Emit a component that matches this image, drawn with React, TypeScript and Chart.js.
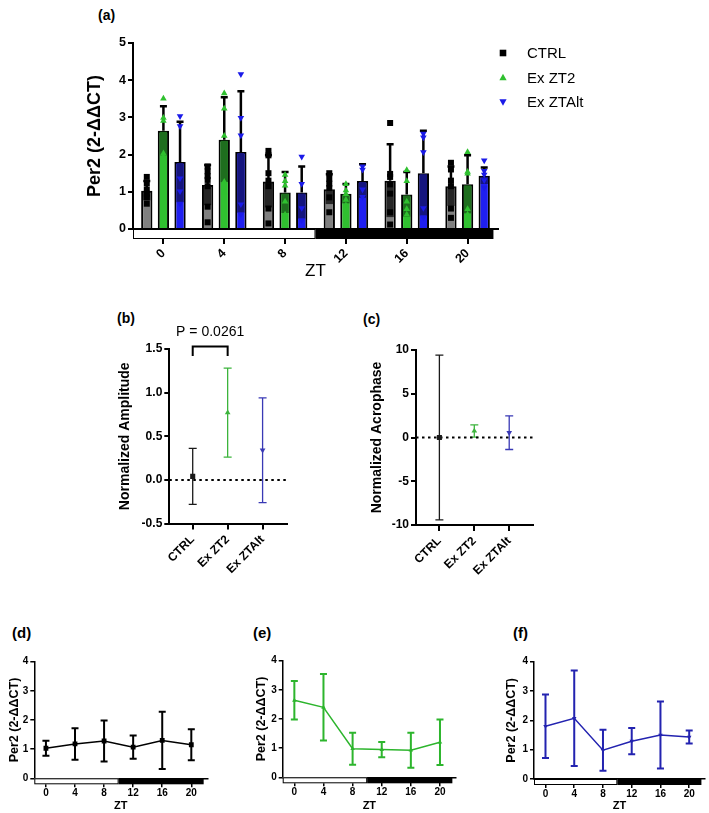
import React, { useEffect, useRef } from "react";
import { Chart, registerables } from "chart.js";

Chart.register(...registerables);

const FONT = "'Liberation Sans', Arial, Helvetica, sans-serif";
Chart.defaults.font.family = FONT;
Chart.defaults.color = "#000";

// Sampling times and groups
const ztHours = [0, 4, 8, 12, 16, 20];
const ztLabels = ["0", "4", "8", "12", "16", "20"];
const groupNames = ["CTRL", "Ex ZT2", "Ex ZTAlt"];

// Per2 relative expression, mean and SD per ZT
const ctrlMean = [1.03, 1.18, 1.28, 1.07, 1.3, 1.15];
const ctrlSD = [0.26, 0.54, 0.7, 0.4, 0.98, 0.53];
const zt2Mean = [2.64, 2.4, 0.98, 0.95, 0.93, 1.2];
const zt2SD = [0.66, 1.14, 0.55, 0.26, 0.6, 0.78];
const ztAltMean = [1.8, 2.07, 0.98, 1.29, 1.5, 1.43];
const ztAltSD = [1.08, 1.63, 0.7, 0.45, 1.14, 0.22];

// Individual replicates per ZT
const ctrlReplicates = [
  [1.4, 1.22, 1.05, 0.95, 0.85, 0.68],
  [1.68, 1.55, 1.42, 1.32, 1.15, 0.6, 0.18],
  [2.1, 1.98, 1.5, 1.3, 1.15, 0.55, 0.15],
  [1.5, 1.35, 1.22, 1.1, 0.85, 0.45],
  [2.85, 1.48, 1.4, 1.2, 0.95, 0.45, 0.12],
  [1.78, 1.6, 1.3, 1.15, 0.55, 0.3],
];
const zt2Replicates = [
  [3.52, 3.0, 2.92, 2.05, 1.95],
  [3.66, 3.25, 2.52, 1.28, 1.0],
  [1.47, 1.3, 1.18, 0.75, 0.4],
  [1.22, 1.05, 0.95, 0.8, 0.65],
  [1.6, 1.3, 0.75, 0.55, 0.4],
  [2.08, 1.55, 1.5, 0.55, 0.4],
];
const ztAltReplicates = [
  [3.02, 2.75, 1.35, 1.0, 0.67],
  [4.15, 2.97, 2.5, 0.65, 0.38],
  [1.93, 1.2, 0.55, 0.22],
  [1.67, 1.58, 1.05, 0.85],
  [2.55, 2.45, 2.05, 0.55, 0.3],
  [1.83, 1.55, 1.45, 1.3, 1.1],
];

// Cosinor summaries
const amplitudeMean = [0.04, 0.77, 0.34];
const amplitudeSD = [0.32, 0.51, 0.6];
const amplitudePValue = "P = 0.0261";
const acrophaseMean = [0, 0.75, 0.55];
const acrophaseSD = [9.42, 0.7, 1.92];

// Light / dark phase in ZT hours
const lightOff = 10;
const darkEnd = 21.7;

const barFill = ["#808080", "#30c030", "#1f1ff0"];
const barShade = ["#262626", "#1e6e1e", "#15157e"];
const markColor = ["#000000", "#2fc02f", "#1a1ae8"];
const markKind = ["square", "up", "down"];
const errColor = ["#1a1a1a", "#3cb43c", "#3939b5"];
const lineColor = ["#000000", "#2db52d", "#2323b0"];

function drawMarker(ctx: CanvasRenderingContext2D, kind: string, x: number, y: number, r: number, color: string) {
  ctx.beginPath();
  if (kind === "square") {
    ctx.rect(x - r, y - r, 2 * r, 2 * r);
  } else if (kind === "up") {
    ctx.moveTo(x, y - r * 1.1);
    ctx.lineTo(x + r * 1.1, y + r * 0.8);
    ctx.lineTo(x - r * 1.1, y + r * 0.8);
    ctx.closePath();
  } else {
    ctx.moveTo(x, y + r * 1.1);
    ctx.lineTo(x + r * 1.1, y - r * 0.8);
    ctx.lineTo(x - r * 1.1, y - r * 0.8);
    ctx.closePath();
  }
  ctx.fillStyle = color;
  ctx.fill();
}

// light/dark bar under the x axis
const lightDark = {
  id: "lightDark",
  afterDraw(chart: any, _a: any, opts: any) {
    const { ctx, chartArea } = chart;
    const xs = chart.scales.x;
    const px = (h: number) => xs.getPixelForValue(h * opts.unit);
    const top = chartArea.bottom;
    const h = opts.height;
    const xL = chartArea.left;
    const xM = px(lightOff);
    const xR = px(darkEnd);
    ctx.save();
    ctx.fillStyle = "#fff";
    ctx.fillRect(xL, top, xM - xL, h);
    ctx.strokeStyle = "#000";
    ctx.lineWidth = 1;
    ctx.strokeRect(xL + 0.5, top + 0.5, xM - xL - 1, h - 1);
    ctx.fillStyle = "#000";
    ctx.fillRect(xM, top, xR - xM, h);
    ctx.restore();
  },
};

// mean +/- SD whiskers for line and scatter datasets
const errorBars = {
  id: "errorBars",
  beforeDatasetsDraw(chart: any, _a: any, opts: any) {
    const { ctx } = chart;
    ctx.save();
    chart.data.datasets.forEach((ds: any, i: number) => {
      const meta = chart.getDatasetMeta(i);
      const ys = chart.scales[meta.yAxisID];
      meta.data.forEach((el: any, j: number) => {
        const m = meta.controller.getParsed(j).y;
        const sd = ds.sd[j];
        const yHi = ys.getPixelForValue(m + sd);
        const yLo = ys.getPixelForValue(m - sd);
        ctx.strokeStyle = ds.errColor;
        ctx.lineWidth = opts.width;
        ctx.beginPath();
        ctx.moveTo(el.x, yHi);
        ctx.lineTo(el.x, yLo);
        ctx.moveTo(el.x - opts.cap, yHi);
        ctx.lineTo(el.x + opts.cap, yHi);
        ctx.moveTo(el.x - opts.cap, yLo);
        ctx.lineTo(el.x + opts.cap, yLo);
        ctx.stroke();
      });
    });
    ctx.restore();
  },
};

// replicates, SD span and legend for the bar panel
const barDecor = {
  id: "barDecor",
  afterDatasetsDraw(chart: any) {
    const { ctx } = chart;
    const ys = chart.scales.y;
    ctx.save();
    chart.data.datasets.forEach((ds: any, i: number) => {
      const meta = chart.getDatasetMeta(i);
      meta.data.forEach((bar: any, j: number) => {
        const m = ds.data[j];
        const sd = ds.sd[j];
        const half = bar.width / 2;
        const yTop = ys.getPixelForValue(m);
        const yLow = ys.getPixelForValue(Math.max(m - sd, 0));
        ctx.fillStyle = ds.shade;
        ctx.fillRect(bar.x - half + 2, yTop + 1, bar.width - 4, yLow - yTop - 1);
        const yUp = ys.getPixelForValue(m + sd);
        ctx.strokeStyle = "#000";
        ctx.lineWidth = 2.5;
        ctx.beginPath();
        ctx.moveTo(bar.x, yTop);
        ctx.lineTo(bar.x, yUp);
        ctx.moveTo(bar.x - 3.5, yUp);
        ctx.lineTo(bar.x + 3.5, yUp);
        ctx.stroke();
        ds.replicates[j].forEach((v: number) => {
          drawMarker(ctx, ds.marker, bar.x, ys.getPixelForValue(v), 3, ds.markColor);
        });
      });
    });
    ctx.restore();
  },
  afterDraw(chart: any) {
    const { ctx, chartArea } = chart;
    ctx.save();
    ctx.font = `15px ${FONT}`;
    ctx.textBaseline = "middle";
    ctx.textAlign = "left";
    chart.data.datasets.forEach((ds: any, i: number) => {
      const y = chartArea.top + 10 + i * 24.5;
      drawMarker(ctx, ds.marker, chartArea.right + 5, y, 3.3, ds.markColor);
      ctx.fillStyle = "#000";
      ctx.fillText(ds.label, chartArea.right + 29, y + 1);
    });
    ctx.restore();
  },
};

// significance bracket
const bracket = {
  id: "bracket",
  afterDraw(chart: any, _a: any, opts: any) {
    const { ctx } = chart;
    const xs = chart.scales.x;
    const ys = chart.scales.y;
    const x0 = xs.getPixelForValue(opts.from);
    const x1 = xs.getPixelForValue(opts.to);
    const yT = ys.getPixelForValue(opts.top);
    const yB = ys.getPixelForValue(opts.leg);
    ctx.save();
    ctx.strokeStyle = "#000";
    ctx.lineWidth = 2;
    ctx.beginPath();
    ctx.moveTo(x0, yB);
    ctx.lineTo(x0, yT);
    ctx.lineTo(x1, yT);
    ctx.lineTo(x1, yB);
    ctx.stroke();
    ctx.fillStyle = "#000";
    ctx.font = `14px ${FONT}`;
    ctx.textAlign = "center";
    ctx.textBaseline = "middle";
    ctx.fillText(opts.text, (x0 + x1) / 2, yT - 14);
    ctx.restore();
  },
};

// dotted zero reference
const zeroLine = {
  id: "zeroLine",
  beforeDatasetsDraw(chart: any) {
    const { ctx, chartArea } = chart;
    const y = chart.scales.y.getPixelForValue(0);
    ctx.save();
    ctx.strokeStyle = "#000";
    ctx.lineWidth = 2;
    ctx.setLineDash([2.5, 3.5]);
    ctx.beginPath();
    ctx.moveTo(chartArea.left, y);
    ctx.lineTo(chartArea.right, y);
    ctx.stroke();
    ctx.restore();
  },
};

const axisLine = (w: number) => ({ color: "#000", width: w });
const tickGrid = (len: number, w: number, offset = false) => ({
  drawOnChartArea: false,
  color: "#000",
  lineWidth: w,
  tickLength: len,
  offset,
});

function barConfig(): any {
  const means = [ctrlMean, zt2Mean, ztAltMean];
  const sds = [ctrlSD, zt2SD, ztAltSD];
  const reps = [ctrlReplicates, zt2Replicates, ztAltReplicates];
  return {
    type: "bar",
    data: {
      labels: ztLabels,
      datasets: groupNames.map((name, i) => ({
        label: name,
        data: means[i],
        sd: sds[i],
        replicates: reps[i],
        backgroundColor: barFill[i],
        borderColor: "#000",
        borderWidth: 2,
        shade: barShade[i],
        markColor: markColor[i],
        marker: markKind[i],
        categoryPercentage: 0.82,
        barPercentage: 0.68,
      })),
    },
    options: {
      animation: false,
      responsive: false,
      devicePixelRatio: 1,
      layout: { padding: { left: 0, top: 13, right: 211, bottom: 0 } },
      plugins: {
        legend: { display: false },
        tooltip: { enabled: false },
        lightDark: { unit: 0.25, height: 10 },
      },
      scales: {
        x: {
          grid: tickGrid(15, 2, false),
          border: axisLine(2),
          ticks: { font: { size: 12.5, weight: "bold" }, minRotation: 45, maxRotation: 45, padding: 2 },
          title: { display: true, text: "ZT", font: { size: 17 }, padding: { top: 0, bottom: 8 } },
          afterFit: (s: any) => { s.height = 61; },
        },
        y: {
          min: 0,
          max: 5,
          ticks: { stepSize: 1, font: { size: 12.5, weight: "bold" }, padding: 2 },
          grid: tickGrid(5, 2),
          border: axisLine(2),
          title: { display: true, text: "Per2 (2-ΔΔCT)", font: { size: 18, weight: "bold" }, padding: { top: 24, bottom: 0 } },
          afterFit: (s: any) => { s.width = 73; },
        },
      },
    },
    plugins: [barDecor, lightDark],
  };
}

function summaryConfig(
  means: number[],
  sds: number[],
  yMin: number,
  yMax: number,
  step: number,
  decimals: number,
  yTitle: string,
  box: { yw: number; xh: number; top: number; right: number; titlePad: number },
  extra: any[],
  extraOpts: any
): any {
  const pointStyles = ["rect", "triangle", "triangle"];
  const rotations = [0, 0, 180];
  const radii = [3.6, 3.3, 3.3];
  return {
    type: "scatter",
    data: {
      datasets: groupNames.map((name, i) => ({
        label: name,
        data: [{ x: i, y: means[i] }],
        sd: [sds[i]],
        errColor: errColor[i],
        pointStyle: pointStyles[i],
        pointRotation: rotations[i],
        pointRadius: radii[i],
        pointBackgroundColor: errColor[i],
        pointBorderColor: errColor[i],
        pointBorderWidth: 0,
      })),
    },
    options: {
      animation: false,
      responsive: false,
      devicePixelRatio: 1,
      layout: { padding: { left: 0, top: box.top, right: box.right, bottom: 0 } },
      plugins: {
        legend: { display: false },
        tooltip: { enabled: false },
        errorBars: { width: 1.3, cap: 4 },
        ...extraOpts,
      },
      scales: {
        x: {
          type: "linear",
          min: -0.67,
          max: 2.69,
          afterBuildTicks: (s: any) => { s.ticks = groupNames.map((_, i) => ({ value: i })); },
          ticks: {
            callback: (v: number) => groupNames[v],
            minRotation: 45,
            maxRotation: 45,
            font: { size: 12, weight: "bold" },
            padding: 3,
          },
          grid: tickGrid(6, 2),
          border: axisLine(2),
          afterFit: (s: any) => { s.height = box.xh; },
        },
        y: {
          min: yMin,
          max: yMax,
          ticks: {
            stepSize: step,
            callback: (v: number) => Number(v).toFixed(decimals),
            font: { size: 12, weight: "bold" },
            padding: 2,
          },
          grid: tickGrid(5, 2),
          border: axisLine(2),
          title: { display: true, text: yTitle, font: { size: 14, weight: "bold" }, padding: { top: box.titlePad, bottom: 0 } },
          afterFit: (s: any) => { s.width = box.yw; },
        },
      },
    },
    plugins: [errorBars, zeroLine, ...extra],
  };
}

function profileConfig(
  g: number,
  means: number[],
  sds: number[],
  box: { yw: number; xh: number; top: number; right: number; titlePad: number }
): any {
  const pointStyles = ["rect", "triangle", "triangle"];
  const rotations = [0, 0, 180];
  const radii = [3.4, 2.6, 2.6];
  return {
    type: "line",
    data: {
      datasets: [
        {
          label: groupNames[g],
          data: ztHours.map((h, i) => ({ x: h, y: means[i] })),
          sd: sds,
          errColor: lineColor[g],
          borderColor: lineColor[g],
          borderWidth: 1.5,
          pointStyle: pointStyles[g],
          pointRotation: rotations[g],
          pointRadius: radii[g],
          pointBackgroundColor: lineColor[g],
          pointBorderColor: lineColor[g],
          pointBorderWidth: 0,
          tension: 0,
        },
      ],
    },
    options: {
      animation: false,
      responsive: false,
      devicePixelRatio: 1,
      layout: { padding: { left: 0, top: box.top, right: box.right, bottom: 0 } },
      plugins: {
        legend: { display: false },
        tooltip: { enabled: false },
        errorBars: { width: 2, cap: 3.5 },
        lightDark: { unit: 1, height: 6 },
      },
      scales: {
        x: {
          type: "linear",
          min: -1.6,
          max: 22.2,
          afterBuildTicks: (s: any) => { s.ticks = ztHours.map((h) => ({ value: h })); },
          ticks: { font: { size: 10, weight: "bold" }, padding: 0, maxRotation: 0 },
          grid: tickGrid(9, 1.5),
          border: axisLine(1.5),
          title: { display: true, text: "ZT", font: { size: 11, weight: "bold" }, padding: { top: 0, bottom: 0 } },
          afterFit: (s: any) => { s.height = box.xh; },
        },
        y: {
          min: 0,
          max: 4,
          ticks: { stepSize: 1, font: { size: 10, weight: "bold" }, padding: 2 },
          grid: tickGrid(4, 1.5),
          border: axisLine(1.5),
          title: { display: true, text: "Per2 (2-ΔΔCT)", font: { size: 12.5, weight: "bold" }, padding: { top: box.titlePad, bottom: 0 } },
          afterFit: (s: any) => { s.width = box.yw; },
        },
      },
    },
    plugins: [errorBars, lightDark],
  };
}

type Box = { x: number; y: number; w: number; h: number };

function ChartBox({ box, make }: { box: Box; make: () => any }) {
  const ref = useRef<HTMLCanvasElement>(null);
  useEffect(() => {
    const chart = new Chart(ref.current as HTMLCanvasElement, make());
    return () => chart.destroy();
  }, []);
  return (
    <canvas
      ref={ref}
      width={box.w}
      height={box.h}
      style={{ position: "absolute", left: box.x, top: box.y, width: box.w, height: box.h }}
    />
  );
}

function PanelTag({ text, x, y, size = 14 }: { text: string; x: number; y: number; size?: number }) {
  return (
    <div
      style={{
        position: "absolute",
        left: x,
        top: y,
        fontFamily: FONT,
        fontWeight: "bold",
        fontSize: size,
        lineHeight: `${size}px`,
        color: "#000",
        whiteSpace: "nowrap",
      }}
    >
      {text}
    </div>
  );
}

export default function App() {
  return (
    <div style={{ position: "absolute", left: 0, top: 0, width: 709, height: 813, background: "#fff", overflow: "hidden" }}>
      <PanelTag text="(a)" x={98} y={8} />
      <PanelTag text="(b)" x={117} y={311} />
      <PanelTag text="(c)" x={363} y={312} />
      <PanelTag text="(d)" x={12} y={625} size={15} />
      <PanelTag text="(e)" x={253} y={625} size={15} />
      <PanelTag text="(f)" x={513} y={625} size={15} />

      <ChartBox box={{ x: 60, y: 30, w: 649, h: 260 }} make={barConfig} />
      <ChartBox
        box={{ x: 100, y: 318, w: 200, h: 272 }}
        make={() =>
          summaryConfig(
            amplitudeMean,
            amplitudeSD,
            -0.5,
            1.5,
            0.5,
            1,
            "Normalized Amplitude",
            { yw: 69.3, xh: 66.5, top: 31, right: 13.3, titlePad: 16.6 },
            [bracket],
            { bracket: { from: 0, to: 1, top: 1.53, leg: 1.42, text: amplitudePValue } }
          )
        }
      />
      <ChartBox
        box={{ x: 340, y: 318, w: 210, h: 272 }}
        make={() =>
          summaryConfig(
            acrophaseMean,
            acrophaseSD,
            -10,
            10,
            5,
            0,
            "Normalized Acrophase",
            { yw: 76, xh: 65, top: 32, right: 16.7, titlePad: 28.6 },
            [],
            {}
          )
        }
      />
      <ChartBox
        box={{ x: 0, y: 645, w: 230, h: 168 }}
        make={() => profileConfig(0, ctrlMean, ctrlSD, { yw: 34.3, xh: 34.7, top: 16.7, right: 22.7, titlePad: 7.5 })}
      />
      <ChartBox
        box={{ x: 240, y: 645, w: 230, h: 168 }}
        make={() => profileConfig(1, zt2Mean, zt2SD, { yw: 42.7, xh: 35.7, top: 15.7, right: 14, titlePad: 14.2 })}
      />
      <ChartBox
        box={{ x: 480, y: 645, w: 229, h: 168 }}
        make={() => profileConfig(2, ztAltMean, ztAltSD, { yw: 54, xh: 34, top: 16.7, right: 2.3, titlePad: 24.2 })}
      />
    </div>
  );
}
